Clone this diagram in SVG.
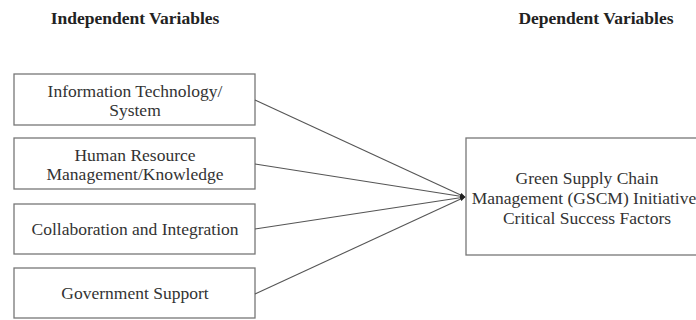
<svg xmlns="http://www.w3.org/2000/svg" width="696" height="320" viewBox="0 0 696 320">
<defs>
<style>
.box{fill:#fff;stroke:#777;stroke-width:1.3}
.t{font-family:"Liberation Serif","Times New Roman","DejaVu Serif",serif;font-size:17.5px;fill:#333;text-anchor:middle}
.h{font-family:"Liberation Serif","Times New Roman","DejaVu Serif",serif;font-size:17.5px;font-weight:bold;fill:#222;text-anchor:middle}
.c{stroke:#555;stroke-width:1.1;fill:none}
</style>
<marker id="ah" viewBox="0 0 10 10" refX="9" refY="5" markerWidth="5" markerHeight="5" orient="auto">
<path d="M0,1 L10,5 L0,9 Z" fill="#222"/>
</marker>
</defs>
<rect width="696" height="320" fill="#fff"/>
<text class="h" x="135" y="24">Independent Variables</text>
<text class="h" x="596" y="24">Dependent Variables</text>
<g id="n1"><rect class="box" x="14" y="74" width="241" height="51"/><text class="t" x="135" y="97">Information Technology/</text><text class="t" x="135" y="116">System</text></g>
<g id="n2"><rect class="box" x="14" y="138" width="241" height="51"/><text class="t" x="135" y="161">Human Resource</text><text class="t" x="135" y="180">Management/Knowledge</text></g>
<g id="n3"><rect class="box" x="14" y="204" width="241" height="50"/><text class="t" x="135" y="235">Collaboration and Integration</text></g>
<g id="n4"><rect class="box" x="14" y="268" width="241" height="50"/><text class="t" x="135" y="299">Government Support</text></g>
<g id="n5"><rect class="box" x="466" y="138" width="240" height="117"/><text class="t" x="587" y="184">Green Supply Chain</text><text class="t" x="584" y="204">Management (GSCM) Initiative</text><text class="t" x="587" y="224">Critical Success Factors</text></g>
<g id="connectors">
<line class="c" x1="255" y1="100" x2="465" y2="197" marker-end="url(#ah)"/>
<line class="c" x1="255" y1="164" x2="465" y2="197" marker-end="url(#ah)"/>
<line class="c" x1="255" y1="229" x2="465" y2="197" marker-end="url(#ah)"/>
<line class="c" x1="255" y1="294" x2="465" y2="197" marker-end="url(#ah)"/>
</g>
</svg>
